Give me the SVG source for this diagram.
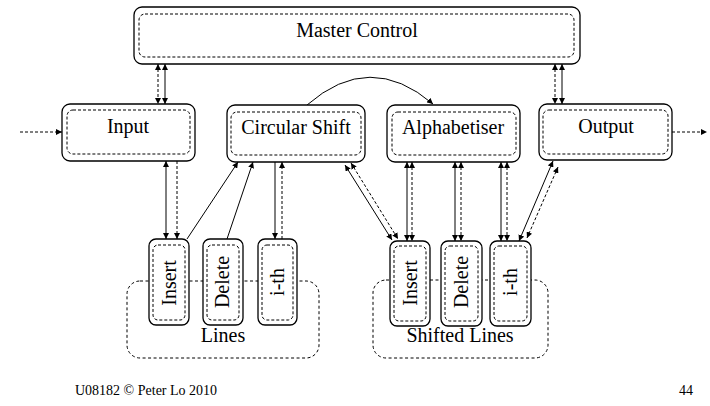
<svg xmlns="http://www.w3.org/2000/svg" width="710" height="406" viewBox="0 0 710 406">
<defs>
<marker id="ah" viewBox="0 0 10 10" refX="10" refY="5" markerWidth="6" markerHeight="6" markerUnits="userSpaceOnUse" orient="auto-start-reverse">
<path d="M0,0 L10,5 L0,10 z" fill="#000"/>
</marker>
<style>
.outer{fill:#fff;stroke:#000;stroke-width:1.3}
.inner{fill:none;stroke:#000;stroke-width:1;stroke-dasharray:3,2}
.cont{fill:none;stroke:#000;stroke-width:1;stroke-dasharray:3,2.5}
.lbl{font-family:"Liberation Serif","Times New Roman",serif;font-size:20px;fill:#000;text-anchor:middle}
.foot{font-family:"Liberation Serif","Times New Roman",serif;font-size:14px;fill:#000}
.s{stroke:#000;stroke-width:1;fill:none}
.d{stroke:#000;stroke-width:1;fill:none;stroke-dasharray:3,2}
.b{marker-start:url(#ah);marker-end:url(#ah)}
.e{marker-end:url(#ah)}
</style>
</defs>
<rect width="710" height="406" fill="#fff"/>

<g id="lines-group">
<rect class="cont" x="127" y="281" width="192" height="77" rx="13"/>
<text class="lbl" x="223" y="342">Lines</text>
</g>
<g id="shifted-lines-group">
<rect class="cont" x="373" y="280" width="175" height="78" rx="13"/>
<text class="lbl" x="460" y="342">Shifted Lines</text>
</g>

<g id="connectors">
<line class="s b" x1="165" y1="64" x2="165" y2="104"/>
<line class="d b" x1="158" y1="64" x2="158" y2="104"/>
<line class="s b" x1="562" y1="64" x2="562" y2="104"/>
<line class="d b" x1="555" y1="64" x2="555" y2="104"/>
<line class="d e" x1="20" y1="132" x2="62" y2="132"/>
<line class="d e" x1="672" y1="132" x2="707" y2="132"/>
<path class="s e" d="M307,105 Q370,50 433,104"/>
<line class="s b" x1="166" y1="161" x2="166" y2="239"/>
<line class="d e" x1="177" y1="161" x2="177" y2="239"/>
<line class="s e" x1="187" y1="239" x2="238" y2="162"/>
<line class="s e" x1="227" y1="239" x2="253" y2="162"/>
<line class="s e" x1="275" y1="162" x2="275" y2="239"/>
<line class="d e" x1="282" y1="239" x2="282" y2="162"/>
<line class="s b" x1="345" y1="165" x2="392" y2="240"/>
<line class="d b" x1="351" y1="163" x2="398" y2="239"/>
<line class="s b" x1="407" y1="162" x2="407" y2="241"/>
<line class="d b" x1="412" y1="162" x2="412" y2="241"/>
<line class="s b" x1="455" y1="162" x2="455" y2="241"/>
<line class="d b" x1="461" y1="162" x2="461" y2="241"/>
<line class="s b" x1="501" y1="162" x2="501" y2="241"/>
<line class="d b" x1="507" y1="162" x2="507" y2="241"/>
<line class="s b" x1="553" y1="161" x2="519" y2="241"/>
<line class="d b" x1="558" y1="167" x2="527" y2="238"/>
</g>

<g id="master-control">
<rect class="outer" x="134" y="7" width="446" height="57" rx="8"/>
<rect class="inner" x="139" y="14" width="435" height="43" rx="6"/>
<text class="lbl" x="357" y="37">Master Control</text>
</g>
<g id="input">
<rect class="outer" x="62" y="104" width="133" height="57" rx="8"/>
<rect class="inner" x="67" y="110" width="123" height="44" rx="6"/>
<text class="lbl" x="128" y="133">Input</text>
</g>
<g id="circular-shift">
<rect class="outer" x="227" y="105" width="138" height="57" rx="8"/>
<rect class="inner" x="231" y="112" width="130" height="43" rx="6"/>
<text class="lbl" x="296" y="134">Circular Shift</text>
</g>
<g id="alphabetiser">
<rect class="outer" x="387" y="105" width="133" height="57" rx="8"/>
<rect class="inner" x="392" y="112" width="124" height="43" rx="6"/>
<text class="lbl" x="453" y="134">Alphabetiser</text>
</g>
<g id="output">
<rect class="outer" x="539" y="104" width="133" height="56" rx="8"/>
<rect class="inner" x="543" y="110" width="125" height="44" rx="6"/>
<text class="lbl" x="606" y="133">Output</text>
</g>

<g id="lines-insert">
<rect class="outer" x="149" y="239" width="40" height="86" rx="7"/>
<rect class="inner" x="153" y="245" width="32" height="75" rx="5"/>
<text class="lbl" transform="translate(176,283) rotate(-90)">Insert</text>
</g>
<g id="lines-delete">
<rect class="outer" x="203" y="239" width="40" height="86" rx="7"/>
<rect class="inner" x="207" y="245" width="32" height="75" rx="5"/>
<text class="lbl" transform="translate(229,282) rotate(-90)">Delete</text>
</g>
<g id="lines-ith">
<rect class="outer" x="258" y="239" width="39" height="86" rx="7"/>
<rect class="inner" x="262" y="245" width="31" height="75" rx="5"/>
<text class="lbl" transform="translate(284,282) rotate(-90)">i-th</text>
</g>

<g id="shifted-insert">
<rect class="outer" x="390" y="241" width="40" height="85" rx="7"/>
<rect class="inner" x="394" y="246" width="32" height="75" rx="5"/>
<text class="lbl" transform="translate(417,283) rotate(-90)">Insert</text>
</g>
<g id="shifted-delete">
<rect class="outer" x="441" y="241" width="41" height="85" rx="7"/>
<rect class="inner" x="445" y="246" width="33" height="75" rx="5"/>
<text class="lbl" transform="translate(468,282) rotate(-90)">Delete</text>
</g>
<g id="shifted-ith">
<rect class="outer" x="490" y="241" width="41" height="85" rx="7"/>
<rect class="inner" x="494" y="246" width="33" height="75" rx="5"/>
<text class="lbl" transform="translate(517,282) rotate(-90)">i-th</text>
</g>

<g id="footer">
<text class="foot" x="75" y="395">U08182 © Peter Lo 2010</text>
<text class="foot" x="679" y="395">44</text>
</g>
</svg>
